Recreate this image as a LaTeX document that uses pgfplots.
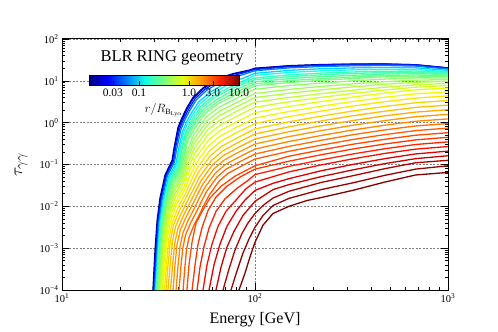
\documentclass[border=0pt]{standalone}
\usepackage{fontspec}
\setmainfont{Liberation Serif}
\usepackage{pgfplots}
\pgfplotsset{compat=1.18}
\definecolor{c01}{rgb}{0,0,0.5}
\definecolor{c02}{rgb}{0,0,0.88}
\definecolor{c03}{rgb}{0,0.17,1}
\definecolor{c04}{rgb}{0,0.5,1}
\definecolor{c05}{rgb}{0,0.83,1}
\definecolor{c06}{rgb}{0.08,1,0.89}
\definecolor{c07}{rgb}{0.22,1,0.75}
\definecolor{c08}{rgb}{0.28,1,0.69}
\definecolor{c09}{rgb}{0.35,1,0.62}
\definecolor{c10}{rgb}{0.42,1,0.55}
\definecolor{c11}{rgb}{0.48,1,0.48}
\definecolor{c12}{rgb}{0.55,1,0.42}
\definecolor{c13}{rgb}{0.62,1,0.35}
\definecolor{c14}{rgb}{0.69,1,0.28}
\definecolor{c15}{rgb}{0.75,1,0.22}
\definecolor{c16}{rgb}{0.82,1,0.15}
\definecolor{c17}{rgb}{0.89,1,0.08}
\definecolor{c18}{rgb}{0.95,0.98,0.01}
\definecolor{c19}{rgb}{1,0.90,0}
\definecolor{c20}{rgb}{1,0.82,0}
\definecolor{c21}{rgb}{1,0.75,0}
\definecolor{c22}{rgb}{1,0.67,0}
\definecolor{c23}{rgb}{1,0.59,0}
\definecolor{c24}{rgb}{1,0.52,0}
\definecolor{c25}{rgb}{1,0.44,0}
\definecolor{c26}{rgb}{1,0.36,0}
\definecolor{c27}{rgb}{1,0.28,0}
\definecolor{c28}{rgb}{1,0.21,0}
\definecolor{c29}{rgb}{1,0.13,0}
\definecolor{c30}{rgb}{0.97,0.05,0}
\definecolor{c31}{rgb}{0.88,0,0}
\definecolor{c32}{rgb}{0.78,0,0}
\definecolor{c33}{rgb}{0.69,0,0}
\definecolor{c34}{rgb}{0.60,0,0}
\definecolor{c35}{rgb}{0.5,0,0}
\begin{document}
\begin{tikzpicture}
\useasboundingbox (-62pt,-42pt) rectangle (436pt,290pt);
\begin{axis}[
  scale only axis, width=386pt, height=251pt,
  xmode=log, ymode=log, xmin=10, xmax=1000, ymin=1e-4, ymax=100,
  xtick={10,100,1000},
  xticklabels={10\textsuperscript{1},10\textsuperscript{2},10\textsuperscript{3}},
  ytick={1e-4,1e-3,1e-2,1e-1,1,10,100},
  yticklabels={10\textsuperscript{−4},10\textsuperscript{−3},10\textsuperscript{−2},10\textsuperscript{−1},10\textsuperscript{0},10\textsuperscript{1},10\textsuperscript{2}},
  tick label style={font=\fontsize{10.5}{12}\selectfont},
  grid=major,
  major grid style={gray, dash pattern=on 2pt off 1.5pt, line width=0.5pt},
  tick align=inside, major tick length=7pt, minor tick length=3.5pt,
  every tick/.style={black, line width=0.6pt},
  axis line style={line width=1pt},
  xlabel={Energy [GeV]}, ylabel={$\tau_{\gamma\gamma}$},
  xlabel style={font=\fontsize{16}{19}\selectfont, at={(axis description cs:0.5,-0.12)}, anchor=center},
  ylabel style={font=\fontsize{19}{22}\selectfont, at={(axis description cs:-0.106,0.5)}, anchor=center},
  colormap={mjet}{rgb=(0,0,0.5) rgb=(0,0,1) rgb=(0,0.5,1) rgb=(0.08,1,0.89) rgb=(0.48,1,0.48) rgb=(0.89,1,0.08) rgb=(1,0.59,0) rgb=(1,0.13,0) rgb=(0.5,0,0)},
  colorbar horizontal, point meta min=-2, point meta max=1,
  colorbar style={
    at={(parent axis.north west)}, anchor=north west,
    xshift=27pt, yshift=-28pt,
    width=150pt, height=10pt, scale only axis,
    xtick={-1.5229,-1,0,0.4771,1},
    xticklabels={0.03,0.1,1.0,3.0,10.0},
    xtick pos=left, xtick align=inside, major tick length=5pt,
    xticklabel style={font=\fontsize{11.5}{13}\selectfont},
    xlabel={$r/R_{\mathrm{B}_{\mathrm{Ly}\alpha}}$},
    xlabel style={font=\fontsize{11.5}{13}\selectfont},
    axis line style={line width=0.8pt},
  },
  no markers,
  every axis plot/.append style={line width=1.3pt, line join=round},
]
\addplot[c01] coordinates {(29.6,1e-4)(30.3,7.9e-4)(31.1,4.5e-3)(32.2,0.0158)(34.2,0.056)(37.2,0.126)(38.1,0.251)(39.0,0.437)(39.9,0.759)(41.9,1.32)(44.4,2.29)(47.7,3.98)(53.8,6.76)(63.6,11.2)(76.9,14.8)(94.2,18.2)(100,20.0)(150,23.0)(220,24.5)(320,25.1)(470,25.3)(680,24.2)(1000,20.4)};
\addplot[c02] coordinates {(29.8,1e-4)(30.5,7.9e-4)(31.3,4.5e-3)(32.4,0.0155)(34.4,0.055)(37.4,0.123)(38.3,0.245)(39.2,0.427)(40.2,0.741)(42.2,1.29)(44.7,2.24)(48.0,3.89)(54.2,6.61)(64.0,11.0)(77.4,14.5)(94.8,17.8)(100,19.5)(150,22.6)(220,24.2)(320,25.0)(470,25.1)(680,24.2)(1000,20.2)};
\addplot[c03] coordinates {(30.05,1e-4)(30.8,7.85e-4)(31.5,4.38e-3)(32.7,0.0154)(34.8,0.0542)(37.9,0.121)(38.7,0.240)(39.7,0.416)(40.75,0.721)(42.8,1.25)(45.45,2.16)(48.9,3.75)(55.2,6.34)(65.5,10.5)(79.5,13.8)(100,18.6)(150,21.8)(220,23.4)(320,24.2)(470,24.5)(680,23.6)(1000,20.0)};
\addplot[c04] coordinates {(30.25,1e-4)(31.05,7.76e-4)(31.8,4.28e-3)(33.05,0.0150)(35.1,0.0524)(38.3,0.116)(39.25,0.230)(40.25,0.397)(41.3,0.686)(43.4,1.18)(46.2,2.05)(49.7,3.53)(56.3,5.96)(67.2,9.84)(81.6,12.9)(100,17.4)(150,20.4)(220,22.0)(320,22.9)(470,23.3)(680,22.5)(1000,19.1)};
\addplot[c05] coordinates {(30.5,1e-4)(31.3,7.59e-4)(32.1,4.10e-3)(33.45,0.0141)(35.6,0.0488)(39.0,0.107)(40.0,0.210)(41.05,0.361)(42.15,0.619)(44.25,1.06)(47.3,1.83)(51.1,3.13)(58.2,5.26)(69.6,8.63)(85.5,11.3)(100,15.1)(150,17.8)(220,19.4)(320,20.4)(470,20.9)(680,20.5)(1000,17.8)};
\addplot[c06] coordinates {(30.7,1e-4)(31.5,7.43e-4)(32.35,3.95e-3)(33.7,0.01346)(35.9,0.0459)(39.35,0.100)(40.45,0.195)(41.55,0.333)(42.65,0.569)(44.85,0.973)(48.0,1.66)(51.9,2.83)(59.2,4.73)(71.0,7.73)(87.7,10.1)(100,13.5)(150,15.9)(220,17.3)(320,18.3)(470,18.9)(680,18.7)(1000,16.6)};
\addplot[c07] coordinates {(30.9,1e-4)(31.7,7.26e-4)(32.6,3.78e-3)(33.95,0.01274)(36.2,0.0428)(39.8,0.0923)(40.9,0.179)(42.05,0.303)(43.2,0.515)(45.5,0.873)(48.6,1.48)(52.7,2.51)(60.2,4.17)(72.6,6.78)(100,11.7)(150,13.9)(220,15.3)(320,16.3)(470,17.0)(680,17.1)(1000,15.5)};
\addplot[c08] coordinates {(31.0,1e-4)(31.85,7.14e-4)(32.75,3.68e-3)(34.15,0.01225)(36.5,0.0407)(40.15,0.0875)(41.25,0.169)(42.4,0.285)(43.55,0.482)(46.0,0.813)(49.2,1.37)(53.45,2.32)(61.2,3.84)(73.9,6.21)(100,10.7)(150,12.6)(220,13.9)(320,15.0)(470,15.8)(680,16.0)(1000,14.8)};
\addplot[c09] coordinates {(31.1,1e-4)(32.0,7.01e-4)(32.9,3.55e-3)(34.35,0.01167)(36.75,0.0384)(40.5,0.0818)(41.7,0.157)(42.85,0.263)(44.05,0.443)(46.5,0.743)(49.8,1.25)(54.25,2.10)(62.6,3.45)(75.4,5.56)(100,9.55)(150,11.3)(220,12.6)(320,13.6)(470,14.5)(680,14.9)(1000,14.1)};
\addplot[c10] coordinates {(31.3,1e-4)(32.2,6.88e-4)(33.1,3.43e-3)(34.55,0.0111)(37.0,0.0361)(40.9,0.0766)(42.1,0.146)(43.25,0.243)(44.5,0.406)(47.0,0.681)(50.5,1.14)(55.0,1.90)(63.7,3.11)(77.0,4.99)(100,8.51)(150,10.1)(220,11.3)(320,12.4)(470,13.3)(680,13.8)(1000,13.2)};
\addplot[c11] coordinates {(31.4,1e-4)(32.35,6.75e-4)(33.3,3.30e-3)(34.75,0.0106)(37.4,0.0340)(41.3,0.0715)(42.5,0.135)(43.7,0.225)(45.0,0.374)(47.65,0.622)(51.2,1.035)(55.75,1.72)(64.3,2.81)(78.6,4.47)(100,7.59)(150,9.10)(220,10.3)(320,11.4)(470,12.4)(680,13.0)(1000,12.6)};
\addplot[c12] coordinates {(31.6,1e-4)(32.55,6.53e-4)(33.5,3.12e-3)(35.0,9.72e-3)(37.6,0.0300)(41.6,0.0643)(44.05,0.188)(48.0,0.508)(56.2,1.41)(64.9,2.32)(79.3,3.71)(100,6.31)(150,7.68)(220,8.85)(320,9.97)(470,11.0)(680,11.8)(1000,11.7)};
\addplot[c13] coordinates {(31.8,1e-4)(32.75,6.28e-4)(33.7,2.90e-3)(35.2,8.75e-3)(37.8,0.0258)(41.8,0.0561)(44.25,0.153)(48.2,0.402)(56.4,1.106)(65.1,1.84)(79.4,2.94)(100,5.01)(150,6.23)(220,7.34)(320,8.45)(470,9.54)(680,10.4)(1000,10.7)};
\addplot[c14] coordinates {(32.0,1e-4)(33.0,6.04e-4)(33.95,2.70e-3)(35.4,7.87e-3)(38.0,0.0223)(42.05,0.0491)(44.4,0.125)(48.4,0.318)(56.6,0.872)(65.2,1.46)(79.5,2.34)(100,3.98)(150,5.05)(220,6.08)(320,7.16)(470,8.27)(680,9.25)(1000,9.77)};
\addplot[c15] coordinates {(32.3,1e-4)(33.25,5.78e-4)(34.2,2.50e-3)(35.65,7.03e-3)(38.3,0.0190)(42.3,0.0423)(44.7,0.101)(48.65,0.249)(56.9,0.675)(65.5,1.13)(79.6,1.82)(100,3.09)(150,4.00)(220,4.93)(320,5.94)(470,7.01)(680,8.02)(1000,8.71)};
\addplot[c16] coordinates {(32.6,1e-4)(33.55,5.52e-4)(34.5,2.29e-3)(35.9,6.21e-3)(38.6,0.0161)(42.55,0.0360)(45.0,0.0798)(48.95,0.191)(57.1,0.513)(65.7,0.865)(79.8,1.39)(100,2.34)(150,3.16)(220,4.02)(320,4.99)(470,6.04)(680,7.05)(1000,7.76)};
\addplot[c17] coordinates {(33.0,1e-4)(33.9,5.25e-4)(34.85,2.09e-3)(36.2,5.44e-3)(39.0,0.0134)(42.9,0.0302)(45.3,0.0626)(49.25,0.145)(57.5,0.384)(65.95,0.647)(80.0,1.04)(100,1.74)(150,2.44)(220,3.20)(320,4.09)(470,5.08)(680,6.07)(1000,6.76)};
\addplot[c18] coordinates {(33.4,1e-4)(34.3,4.99e-4)(35.25,1.91e-3)(36.7,4.78e-3)(39.3,0.0112)(43.3,0.0254)(45.7,0.0493)(49.65,0.110)(57.8,0.288)(66.3,0.485)(80.2,0.774)(100,1.29)(150,1.85)(220,2.47)(320,3.21)(470,4.05)(680,4.89)(1000,5.50)};
\addplot[c19] coordinates {(34.0,1e-4)(34.9,4.74e-4)(35.8,1.73e-3)(37.35,4.19e-3)(40.0,9.44e-3)(43.9,0.0213)(46.4,0.0388)(50.3,0.0843)(58.3,0.216)(66.8,0.364)(80.4,0.579)(100,0.955)(150,1.40)(220,1.89)(320,2.49)(470,3.17)(680,3.87)(1000,4.37)};
\addplot[c20] coordinates {(34.6,1e-4)(35.5,4.51e-4)(36.5,1.58e-3)(37.9,3.67e-3)(40.6,7.94e-3)(44.45,0.0179)(46.95,0.0307)(50.85,0.0646)(58.8,0.163)(67.3,0.274)(80.8,0.433)(100,0.708)(150,1.05)(220,1.43)(320,1.90)(470,2.44)(680,2.99)(1000,3.39)};
\addplot[c21] coordinates {(35.4,1e-4)(36.4,4.30e-4)(37.35,1.45e-3)(38.75,3.26e-3)(41.45,6.76e-3)(45.3,0.0152)(47.75,0.0247)(51.6,0.0504)(59.55,0.125)(67.9,0.210)(81.1,0.330)(100,0.537)(150,0.799)(220,1.10)(320,1.46)(470,1.88)(680,2.32)(1000,2.63)};
\addplot[c22] coordinates {(36.5,1e-4)(37.45,4.10e-4)(38.4,1.33e-3)(39.85,2.91e-3)(42.5,5.90e-3)(46.35,0.0129)(48.7,0.0207)(52.6,0.0412)(60.4,0.0993)(68.6,0.164)(81.7,0.254)(100,0.407)(150,0.610)(220,0.841)(320,1.12)(470,1.46)(680,1.79)(1000,2.04)};
\addplot[c23] coordinates {(37.6,1e-4)(38.5,3.92e-4)(39.45,1.22e-3)(40.95,2.61e-3)(43.6,5.15e-3)(47.4,0.0110)(49.8,0.0173)(53.6,0.0338)(61.3,0.0789)(69.3,0.128)(82.1,0.196)(100,0.309)(150,0.465)(220,0.645)(320,0.866)(470,1.12)(680,1.39)(1000,1.58)};
\addplot[c24] coordinates {(39.0,1e-4)(39.9,3.73e-4)(40.9,1.12e-3)(42.35,2.33e-3)(44.9,4.50e-3)(48.7,9.35e-3)(50.95,0.0145)(54.8,0.0276)(62.4,0.0628)(70.2,0.100)(82.8,0.151)(100,0.234)(150,0.355)(220,0.494)(320,0.666)(470,0.869)(680,1.08)(1000,1.23)};
\addplot[c25] coordinates {(40.4,1e-4)(41.3,3.56e-4)(42.3,1.03e-3)(43.7,2.08e-3)(46.3,3.93e-3)(50.1,7.96e-3)(52.4,0.0122)(56.1,0.0226)(63.5,0.0499)(71.1,0.0783)(83.3,0.116)(100,0.178)(150,0.271)(220,0.379)(320,0.513)(470,0.671)(680,0.835)(1000,0.955)};
\addplot[c26] coordinates {(42.4,1e-4)(43.3,3.40e-4)(44.2,9.42e-4)(45.6,1.86e-3)(48.1,3.43e-3)(51.9,6.78e-3)(54.1,0.0102)(57.9,0.0185)(65.1,0.0397)(72.4,0.0614)(84.3,0.0897)(100,0.135)(150,0.207)(220,0.290)(320,0.395)(470,0.518)(680,0.647)(1000,0.741)};
\addplot[c27] coordinates {(44.4,1e-4)(45.5,3.98e-4)(47.2,1.41e-3)(49.5,3.98e-3)(53.2,7.59e-3)(58.5,0.0158)(66.7,0.0302)(78.7,0.0525)(100,0.0933)(150,0.158)(220,0.223)(320,0.304)(470,0.400)(680,0.501)(1000,0.575)};
\addplot[c28] coordinates {(47.2,1e-4)(48.9,3.98e-4)(50.7,1.26e-3)(53.2,3.16e-3)(57.1,7.94e-3)(62.8,0.0166)(71.5,0.0302)(83.6,0.0501)(100,0.0776)(150,0.120)(220,0.171)(320,0.234)(470,0.309)(680,0.388)(1000,0.447)};
\addplot[c29] coordinates {(50.1,1e-4)(51.9,3.55e-4)(54.5,1.12e-3)(57.8,3.02e-3)(62.8,7.59e-3)(69.9,0.0151)(80.6,0.0269)(90.8,0.0398)(100,0.0575)(150,0.0902)(220,0.129)(320,0.178)(470,0.238)(680,0.301)(1000,0.347)};
\addplot[c30] coordinates {(53.8,1e-4)(56.4,3.98e-4)(59.9,1.26e-3)(64.3,3.31e-3)(70.7,7.59e-3)(79.7,0.0141)(89.8,0.0263)(100,0.0380)(150,0.0667)(220,0.0977)(320,0.136)(470,0.184)(680,0.233)(1000,0.269)};
\addplot[c31] coordinates {(57.8,1e-4)(61.3,3.98e-4)(65.9,1.26e-3)(71.5,3.31e-3)(79.7,7.59e-3)(88.7,0.0141)(100,0.0240)(124,0.0355)(150,0.0459)(220,0.0708)(320,0.100)(470,0.138)(680,0.179)(1000,0.209)};
\addplot[c32] coordinates {(62.8,1e-4)(66.7,3.55e-4)(71.5,1.05e-3)(77.8,2.51e-3)(86.6,6.03e-3)(100,0.0132)(124,0.0251)(150,0.0331)(220,0.0513)(320,0.0741)(470,0.105)(680,0.138)(1000,0.162)};
\addplot[c33] coordinates {(68.3,1e-4)(73.3,3.16e-4)(78.7,8.91e-4)(85.6,2.24e-3)(91.9,3.98e-3)(100,6.76e-3)(110,0.0105)(124,0.0158)(150,0.0229)(220,0.0372)(320,0.0537)(470,0.0794)(680,0.110)(1000,0.126)};
\addplot[c34] coordinates {(75.1,1e-4)(80.6,2.82e-4)(86.6,7.59e-4)(93.1,1.66e-3)(100,3.16e-3)(110,6.03e-3)(124,0.0105)(150,0.0155)(220,0.0251)(320,0.0363)(470,0.0550)(680,0.0776)(1000,0.0933)};
\addplot[c35] coordinates {(82.6,1e-4)(88.7,2.51e-4)(94.2,6.17e-4)(100,1.38e-3)(110,3.55e-3)(124,6.76e-3)(150,0.0100)(186,0.0138)(220,0.0162)(320,0.0240)(470,0.0380)(680,0.0562)(1000,0.0646)};
\node[font=\fontsize{16.5}{19}\selectfont] at (rel axis cs:0.285,0.924) {BLR RING geometry};
\end{axis}
\end{tikzpicture}
\end{document}
